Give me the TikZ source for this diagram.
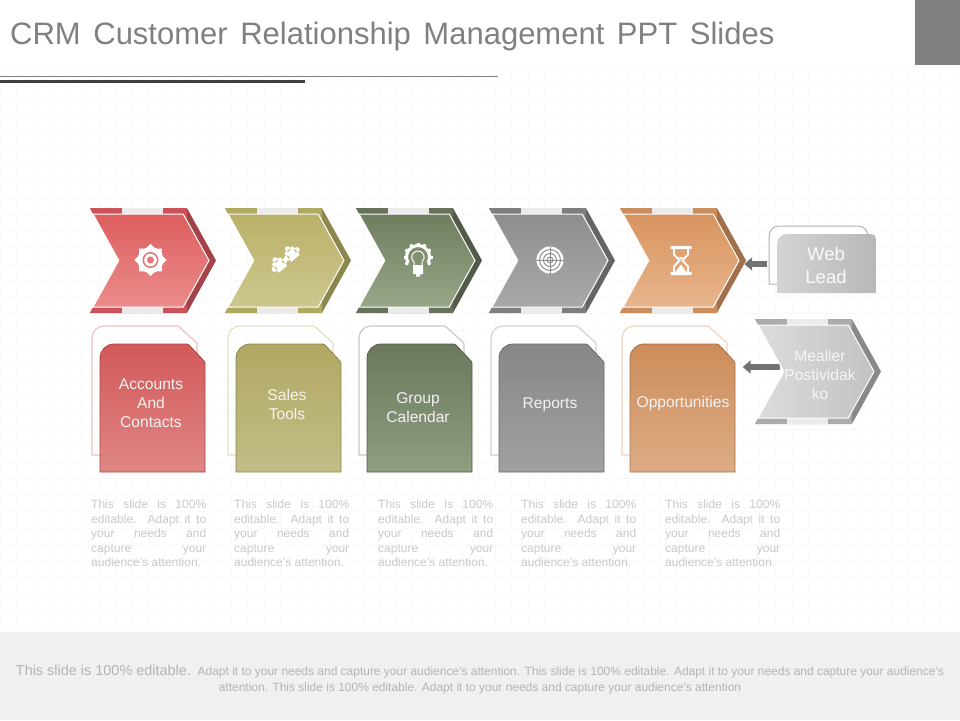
\documentclass[tikz,border=0pt]{standalone}
\usepackage{fontspec}
\setmainfont{Liberation Sans}
\usetikzlibrary{shapes.symbols, positioning, arrows.meta, calc}

\definecolor{crmredtop}{HTML}{DD5E5E}
\definecolor{crmredbot}{HTML}{EC8C8C}
\definecolor{crmredback}{HTML}{CC525A}
\definecolor{crmolivetop}{HTML}{B9B168}
\definecolor{crmolivebot}{HTML}{CDC78F}
\definecolor{crmoliveback}{HTML}{AFA962}
\definecolor{crmgreentop}{HTML}{707E60}
\definecolor{crmgreenbot}{HTML}{98A688}
\definecolor{crmgreenback}{HTML}{667259}
\definecolor{crmgreytop}{HTML}{8E8E8E}
\definecolor{crmgreybot}{HTML}{A9A9A9}
\definecolor{crmgreyback}{HTML}{7E7E7E}
\definecolor{crmorangetop}{HTML}{D8945F}
\definecolor{crmorangebot}{HTML}{E8B58C}
\definecolor{crmorangeback}{HTML}{C98C5C}
\definecolor{crmsilvertop}{HTML}{DCDCDC}
\definecolor{crmsilverbot}{HTML}{C2C2C2}
\definecolor{crmsilverback}{HTML}{ABABAB}
\definecolor{crmtext}{HTML}{808080}
\definecolor{crmnote}{HTML}{C8C8C8}
\definecolor{crmfoot}{HTML}{B4B4B4}

\newcommand{\notetext}{This slide is 100\%\linebreak editable. Adapt it to\linebreak your needs and\linebreak capture your\linebreak \mbox{audience's attention.}}

\begin{document}
\begin{tikzpicture}[
    x=1pt, y=-1pt,
    >=Triangle,
    mainchevron/.style={signal, signal from=west, signal to=east, signal pointer angle=122, draw=white, line width=1pt, inner sep=0pt, minimum width=116pt, minimum height=93pt, top color=#1top, bottom color=#1bot},
    backchevron/.style={signal, signal from=west, signal to=east, signal pointer angle=122, inner sep=0pt, minimum width=126pt, minimum height=105pt, fill=#1back!80!black,
        path picture={
            \fill[#1back] (path picture bounding box.north west) rectangle ([xshift=34pt]path picture bounding box.south);
            \fill[black!8] ([xshift=-31pt]path picture bounding box.north) rectangle ([xshift=10pt]path picture bounding box.south);}},
    cardlabel/.style={minimum width=105pt, inner sep=0pt, align=center, text=white!95!black, font=\fontsize{15.6}{19}\selectfont},
    notetext/.style={text width=115pt, inner sep=0pt, align=justify, anchor=north west, text=crmnote, font=\fontsize{12}{14.4}\selectfont},
    bigarrow/.style={->, line width=5.5pt, draw=black!55, >={Triangle[length=8pt, width=13pt]}},
    gridline/.style={draw=black!2.5, line width=0.5pt, step=16.5pt},
    cardfront/.pic={
        \draw[draw=#1top!75!black, line width=0.8pt, top color=#1top!95!black, bottom color=#1bot!95!black] (0,128) [rounded corners=14pt] -- (0,0) [rounded corners=1pt] -- (88,0) -- (105,18) [sharp corners] -- (105,128) -- cycle;
    },
    cardback/.pic={
        \draw[draw=#1top!40!white, line width=1.2pt, fill=white] (10,129) -- (0,129) [rounded corners=12pt] -- (0,0) [rounded corners=1pt] -- (86,0) -- (105,17) [sharp corners] -- (105,40);
    },
    gearicon/.pic={
        \fill[white] (0,0) circle (13);
        \foreach \a in {0,45,...,315}
            \fill[white] ({\a-22}:12.5) -- (\a:16) -- ({\a+22}:12.5) -- cycle;
        \fill[crmredtop!85!white] (0,0) circle (8);
        \fill[white] (0,0) circle (6.3);
        \fill[crmredtop!85!white] (0,0) circle (3.5);
    },
    puzzleicon/.pic={
        \fill[white, rotate=40] (-5.5,-5.5) rectangle (5.5,5.5) (0,-6.5) circle (2.8) (6.5,0) circle (2.8) (-6.5,0) circle (2.8);
    },
    bulbicon/.pic={
        \draw[white, line width=3pt] (150:11.5) arc (150:390:11.5);
        \foreach \a in {150,180,...,390}
            \draw[white, line width=3pt] (\a:11.5) -- (\a:14.5);
        \draw[white, line width=1pt] (-4,9) -- (-4,5) (4,5) -- (4,9) (-4,5) arc (130:410:6.2);
        \fill[white] (-5,8) rectangle (5,17) (-2,17) rectangle (2,19.5);
    },
    targeticon/.pic={
        \fill[white] (0,0) circle (13.5);
        \draw[crmgreytop, line width=1pt] (0,0) circle (10.5) (0,0) circle (6.5) (0,0) circle (3);
        \draw[crmgreytop, line width=0.4pt] (-13.5,0) -- (13.5,0) (0,-13.5) -- (0,13.5);
    },
    hourglassicon/.pic={
        \fill[white] (-10.5,-14.5) rectangle (10.5,-11.5) (-10.5,11.5) rectangle (10.5,14.5);
        \draw[white, line width=1.8pt] (-7,-11.5) -- (-7,-6) -- (-1.5,0) -- (-7,6) -- (-7,11.5) (7,-11.5) -- (7,-6) -- (1.5,0) -- (7,6) -- (7,11.5);
        \fill[white] (0,4) -- (5.5,11.5) -- (-5.5,11.5) -- cycle (-3,-3.5) -- (3,-3.5) -- (0,-1) -- cycle;
    }
]

    \useasboundingbox (0,0) rectangle (960,720);

    % Background
    \draw[gridline] (0,64) grid (960,632);
    \fill[black!6] (0,632) rectangle (960,720);
    \fill[crmtext] (915,0) rectangle (960,65);

    % Title
    \node[anchor=west, inner sep=0pt, text=crmtext, font=\fontsize{31}{36}\selectfont] (title) at (10,36) {\spaceskip=12.6pt\relax CRM Customer Relationship Management PPT Slides};
    \draw[crmtext, line width=1.5pt] (0,76.5) -- (498,76.5);
    \draw[black!75, line width=3.5pt] (0,81.5) -- (305,81.5);

    % Chevrons
    \node[backchevron=crmred] (backaccounts) at (153,260.5) {};
    \node[mainchevron=crmred] (chevaccounts) at (151,260.5) {};
    \node[backchevron=crmolive] (backsales) at (288,260.5) {};
    \node[mainchevron=crmolive] (chevsales) at (286,260.5) {};
    \node[backchevron=crmgreen] (backgroup) at (419,260.5) {};
    \node[mainchevron=crmgreen] (chevgroup) at (417,260.5) {};
    \node[backchevron=crmgrey] (backreports) at (552,260.5) {};
    \node[mainchevron=crmgrey] (chevreports) at (550,260.5) {};
    \node[backchevron=crmorange] (backopp) at (683,260.5) {};
    \node[mainchevron=crmorange] (chevopp) at (681,260.5) {};

    % Icons
    \pic at (150.5,260) {gearicon};
    \pic at (279.5,265) {puzzleicon};
    \pic at (292,254) {puzzleicon};
    \pic at (418,257) {bulbicon};
    \pic at (550,260) {targeticon};
    \pic at (681,260.5) {hourglassicon};

    % Cards
    \pic at (92,326) {cardback=crmred};
    \pic at (100,344) {cardfront=crmred};
    \pic at (228,326) {cardback=crmolive};
    \pic at (236,344) {cardfront=crmolive};
    \pic at (359,326) {cardback=crmgreen};
    \pic at (367,344) {cardfront=crmgreen};
    \pic at (491,326) {cardback=crmgrey};
    \pic at (499,344) {cardfront=crmgrey};
    \pic at (622,326) {cardback=crmorange};
    \pic at (630,344) {cardfront=crmorange};

    \node[cardlabel] (accounts) at (151,403) {Accounts\\And\\Contacts};
    \node[cardlabel] (sales) at (287,404) {Sales\\Tools};
    \node[cardlabel] (group) at (418,408) {Group\\Calendar};
    \node[cardlabel] (reports) at (550,405) {Reports};
    \node[cardlabel] (opp) at (683,403.5) {Opportunities};

    % Grey chevron on the right
    \node[backchevron=crmsilver] (backmealier) at (818,371.5) {};
    \coordinate (mealierfoot) at (780,367);
    \draw[bigarrow, shorten >=7pt] (mealierfoot) -- (opp.east |- mealierfoot);
    \node[mainchevron=crmsilver, shading angle=90] (mealier) at (816,371.5) {};
    \node[align=center, inner sep=0pt, text=white!96!black, font=\fontsize{15.6}{19}\selectfont] (mealiertext) at (820,375) {Mealier\\Postividak\\ko};

    % Web Lead card
    \draw[draw=black!30, line width=1pt, fill=white] (778,284) -- (769,284) [rounded corners=10pt] -- (769,226) -- (868,226) [sharp corners] -- (868,240);
    \shade[left color=black!17, right color=black!28] (777,293) [rounded corners=10pt] -- (777,234) [rounded corners=5pt] -- (876,234) [sharp corners] -- (876,293) -- cycle;
    \node[align=center, inner sep=0pt, text=white!98!black, font=\fontsize{18.5}{23}\selectfont] (web) at (826,265.5) {Web\\Lead};
    \coordinate (webfoot) at (767,264);
    \draw[bigarrow, shorten >=-2pt] (webfoot) -- (backopp.east |- webfoot);

    % Notes
    \node[notetext] (noteaccounts) at (91,500) {\notetext};
    \node[notetext] (notesales) at (234,500) {\notetext};
    \node[notetext] (notegroup) at (378,500) {\notetext};
    \node[notetext] (notereports) at (521,500) {\notetext};
    \node[notetext] (noteopp) at (665,500) {\notetext};

    % Footer
    \node[align=center, inner sep=0pt, text=crmfoot, font=\fontsize{11.97}{15.5}\selectfont] (footer) at (480,679.5) {{\fontsize{14.45}{15.5}\selectfont This slide is 100\% editable.}\ \ Adapt it to your needs and capture your audience's attention. This slide is 100\% editable. Adapt it to your needs and capture your audience's\\attention. This slide is 100\% editable. Adapt it to your needs and capture your audience's attention};

\end{tikzpicture}
\end{document}
